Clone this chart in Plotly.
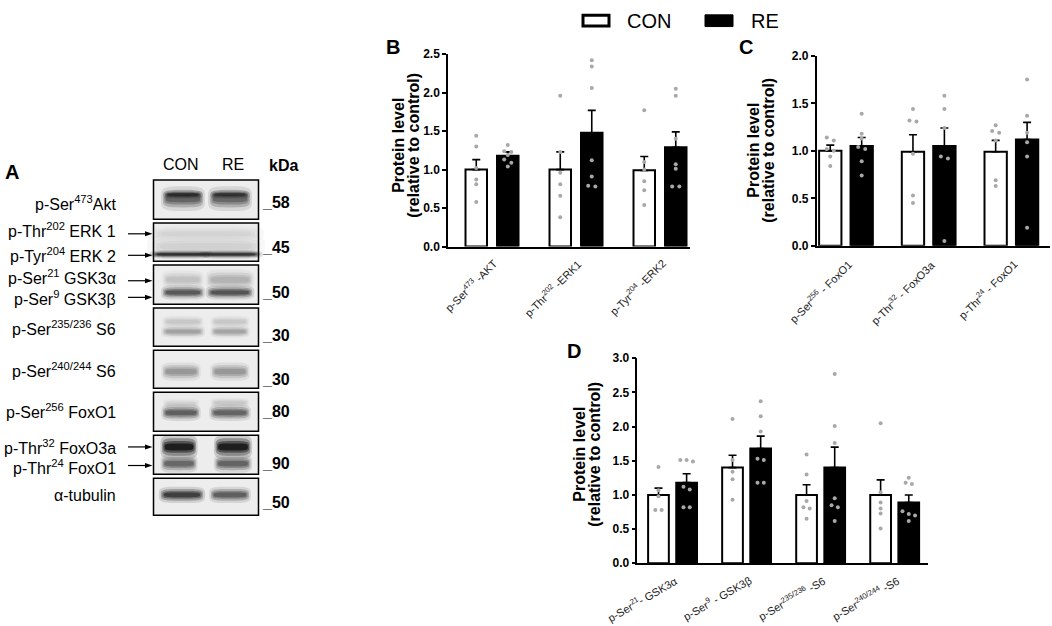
import numpy as np
import plotly.graph_objects as go

W, H = 1052, 626
FONT = "Liberation Sans, Arial, Helvetica, sans-serif"

# ---------------- DATA ----------------
b_labels = ["p-Ser<sup>473</sup> -AKT", "p-Thr<sup>202</sup> -ERK1", "p-Tyr<sup>204</sup> -ERK2"]
b_con_mean = [1.00, 1.00, 0.99]
b_con_sem = [0.13, 0.23, 0.18]
b_re_mean = [1.18, 1.48, 1.29]
b_re_sem = [0.05, 0.29, 0.20]
b_con_pts = [[1.44, 1.30, 1.02, 0.87, 0.81, 0.58],
             [1.96, 1.23, 0.96, 0.81, 0.66, 0.38],
             [1.77, 1.10, 1.00, 0.85, 0.73, 0.54]]
b_re_pts = [[1.32, 1.24, 1.23, 1.19, 1.13, 1.09, 1.04],
            [2.42, 2.34, 2.06, 1.12, 0.91, 0.79, 0.78],
            [2.05, 1.96, 1.40, 1.07, 1.01, 0.78, 0.78]]

c_labels = ["p-Ser<sup>256</sup> - FoxO1", "p-Thr<sup>32</sup> - FoxO3a", "p-Thr<sup>24</sup> - FoxO1"]
c_con_mean = [1.00, 0.99, 0.99]
c_con_sem = [0.06, 0.18, 0.12]
c_re_mean = [1.05, 1.05, 1.12]
c_re_sem = [0.09, 0.19, 0.18]
c_con_pts = [[1.14, 1.11, 1.02, 1.00, 0.94, 0.84],
             [1.44, 1.32, 1.31, 0.97, 0.53, 0.45],
             [1.27, 1.21, 1.19, 1.11, 0.69, 0.63]]
c_re_pts = [[1.39, 1.18, 1.13, 1.04, 1.02, 0.89, 0.74],
            [1.58, 1.44, 1.24, 0.94, 0.92, 0.05],
            [1.75, 1.37, 1.19, 1.09, 0.94, 0.19]]

d_labels = ["p-Ser<sup>21</sup>- GSK3α", "p-Ser<sup>9</sup> - GSK3β",
            "p-Ser<sup>235/236</sup> -S6", "p-Ser<sup>240/244</sup> -S6"]
d_con_mean = [1.00, 1.40, 1.00, 1.00]
d_con_sem = [0.10, 0.18, 0.15, 0.22]
d_re_mean = [1.18, 1.68, 1.40, 0.89]
d_re_sem = [0.13, 0.18, 0.30, 0.11]
d_con_pts = [[1.41, 1.07, 0.98, 0.78, 0.78],
             [2.11, 1.51, 1.34, 1.23, 0.93],
             [1.59, 1.30, 0.91, 0.82, 0.80, 0.65],
             [2.05, 1.04, 0.89, 0.80, 0.73, 0.51]]
d_re_pts = [[1.51, 1.51, 1.49, 1.12, 1.08, 0.82, 0.82],
            [2.37, 2.15, 1.93, 1.53, 1.51, 1.18, 1.18],
            [2.77, 2.01, 1.76, 0.95, 0.85, 0.82, 0.62],
            [1.25, 1.18, 1.16, 0.76, 0.72, 0.70, 0.62]]

groups = ["CON", "RE"]

blot_rows = ["p-Ser<sup>473</sup>Akt", "p-Thr<sup>202</sup> ERK 1", "p-Tyr<sup>204</sup> ERK 2",
             "p-Ser<sup>21</sup> GSK3α", "p-Ser<sup>9</sup> GSK3β", "p-Ser<sup>235/236</sup> S6",
             "p-Ser<sup>240/244</sup> S6", "p-Ser<sup>256</sup> FoxO1", "p-Thr<sup>32</sup> FoxO3a",
             "p-Thr<sup>24</sup> FoxO1", "α-tubulin"]
kda_labels = ["_58", "_45", "_50", "_30", "_30", "_80", "_90", "_50"]

# ---------------- HELPERS ----------------
def px(x):
    return x / W

def py(y):
    return 1 - y / H


def spread(vals, tol, step):
    vals = np.asarray(vals, dtype=float)
    order = np.argsort(-vals)
    offs = np.zeros(len(vals))
    clusters, cur = [], [order[0]]
    for k in order[1:]:
        if abs(vals[cur[-1]] - vals[k]) < tol:
            cur.append(k)
        else:
            clusters.append(cur)
            cur = [k]
    clusters.append(cur)
    for cl in clusters:
        n = len(cl)
        for j, k in enumerate(cl):
            offs[k] = (j - (n - 1) / 2) * step
    return offs


fig = go.Figure()
shapes = []
ann = []

panels = [
    dict(key="", labels=b_labels, cm=b_con_mean, cs=b_con_sem, rm=b_re_mean, rs=b_re_sem,
         cp=b_con_pts, rp=b_re_pts, xdom=(448, 690), ytop=48.3, ybot=245, ymax=2.5,
         xr=(-0.524, 2.357), off=0.1875, bw=0.256, angle=-45, lshift=11, lyshift=-7),
    dict(key="2", labels=c_labels, cm=c_con_mean, cs=c_con_sem, rm=c_re_mean, rs=c_re_sem,
         cp=c_con_pts, rp=c_re_pts, xdom=(816.7, 1050), ytop=50, ybot=244.3, ymax=2.0,
         xr=(-0.354, 2.467), off=0.19, bw=0.27, angle=-45, lshift=12, lyshift=-8),
    dict(key="3", labels=d_labels, cm=d_con_mean, cs=d_con_sem, rm=d_re_mean, rs=d_re_sem,
         cp=d_con_pts, rp=d_re_pts, xdom=(637.3, 928), ytop=359.3, ybot=569, ymax=3.0,
         xr=(-0.476, 3.45), off=0.19, bw=0.28, angle=-30, lshift=10, lyshift=-7),
]

layout_axes = {}
for p in panels:
    k = p["key"]
    xa, ya = "x" + k, "y" + k
    n = len(p["labels"])
    idx = np.arange(n)
    for gi, (means, sems, pts, fill) in enumerate([(p["cm"], p["cs"], p["cp"], "white"),
                                                    (p["rm"], p["rs"], p["rp"], "black")]):
        sign = -1 if gi == 0 else 1
        xs = idx + sign * p["off"]
        fig.add_trace(go.Bar(
            x=xs, y=means, width=p["bw"], xaxis=xa, yaxis=ya, name=groups[gi],
            showlegend=False,
            marker=dict(color=fill, line=dict(color="black", width=2)),
            error_y=dict(type="data", array=sems, arrayminus=[0] * n, symmetric=False,
                         color="black", thickness=1.6, width=4),
        ))
        dx, dy = [], []
        for i in range(n):
            o = spread(pts[i], 0.016 * p["ymax"], 0.085)
            dx.extend(list(xs[i] + o))
            dy.extend(pts[i])
        fig.add_trace(go.Scatter(
            x=dx, y=dy, mode="markers", xaxis=xa, yaxis=ya, showlegend=False,
            marker=dict(color="#a8a8a8", size=4, line=dict(width=0)),
        ))
    layout_axes["xaxis" + k] = dict(
        domain=[px(p["xdom"][0]), px(p["xdom"][1])], range=list(p["xr"]), anchor=ya,
        showline=True, linecolor="black", linewidth=1.5, ticks="", showgrid=False,
        zeroline=False, showticklabels=False, fixedrange=True,
    )
    layout_axes["yaxis" + k] = dict(
        domain=[py(p["ybot"]), py(p["ytop"])], range=[0, p["ymax"]], anchor=xa,
        showline=True, linecolor="black", linewidth=1.5, ticks="outside", ticklen=4,
        tickwidth=1.5, tickcolor="black", dtick=0.5, tickformat=".1f", showgrid=False,
        zeroline=False, tickfont=dict(family=FONT, size=12, color="black", weight="bold"),
        fixedrange=True,
    )
    # category labels, rotated, anchored at their upper-right end near each category
    for i, lab in enumerate(p["labels"]):
        ann.append(dict(x=int(idx[i]), y=0, xref=xa, yref=ya, text=lab, showarrow=False,
                        textangle=p["angle"], xanchor="right", yanchor="top",
                        xshift=p["lshift"], yshift=p["lyshift"],
                        font=dict(family=FONT, size=11, color="#1a1a1a")))

# y-axis titles (two lines each)
for (x1, x2, yc) in [(399, 414, 142), (754, 769, 147), (580, 595, 458)]:
    ann.append(dict(x=px(x1), y=py(yc), xref="paper", yref="paper", text="<b>Protein level</b>",
                    textangle=-90, showarrow=False, xanchor="center", yanchor="middle",
                    font=dict(family=FONT, size=16, color="black")))
    ann.append(dict(x=px(x2), y=py(yc), xref="paper", yref="paper",
                    text="<b>(relative to control)</b>",
                    textangle=-90, showarrow=False, xanchor="center", yanchor="middle",
                    font=dict(family=FONT, size=16, color="black")))

# panel letters
for (lab, x, y) in [("A", 12, 169), ("B", 393, 41), ("C", 746, 41), ("D", 574, 352)]:
    ann.append(dict(x=px(x), y=py(y), xref="paper", yref="paper", text="<b>%s</b>" % lab,
                    showarrow=False, xanchor="center", yanchor="middle",
                    font=dict(family=FONT, size=20, color="black")))

# legend
shapes.append(dict(type="rect", xref="paper", yref="paper", x0=px(583), x1=px(609),
                   y0=py(19.5), y1=py(8.5), fillcolor="white", line=dict(color="black", width=3)))
shapes.append(dict(type="rect", xref="paper", yref="paper", x0=px(705), x1=px(733),
                   y0=py(20), y1=py(8), fillcolor="black", line=dict(color="black", width=1)))
ann.append(dict(x=px(625), y=py(14), xref="paper", yref="paper", text=groups[0], showarrow=False,
                xanchor="left", yanchor="middle", font=dict(family=FONT, size=20, color="black")))
ann.append(dict(x=px(749), y=py(14), xref="paper", yref="paper", text=groups[1], showarrow=False,
                xanchor="left", yanchor="middle", font=dict(family=FONT, size=20, color="black")))

# ---------------- PANEL A (blot drawing) ----------------
def band_path(cx, cy, w, h, npts=48, nexp=4):
    t = np.linspace(0, 2 * np.pi, npts, endpoint=False)
    c, s = np.cos(t), np.sin(t)
    xs = cx + (w / 2) * np.sign(c) * np.abs(c) ** (2 / nexp)
    ys = cy + (h / 2) * np.sign(s) * np.abs(s) ** (2 / nexp)
    pts = ["%s%.5f,%.5f" % ("M" if i == 0 else "L", px(a), py(b)) for i, (a, b) in enumerate(zip(xs, ys))]
    return " ".join(pts) + " Z"


def band(cx, cy, w, h, color):
    for sc_w, sc_h, op in [(1.16, 2.1, 0.15), (1.06, 1.5, 0.3), (0.98, 1.0, 0.45), (0.9, 0.6, 0.7)]:
        shapes.append(dict(type="path", xref="paper", yref="paper",
                           path=band_path(cx, cy, w * sc_w, h * sc_h),
                           fillcolor=color, opacity=op, line=dict(width=0)))


boxes = [(177, 217), (221, 260), (264, 304), (308, 347), (351, 390), (394, 434), (438, 478), (482, 520)]
BX0, BX1 = 153.5, 258.5
for (y0, y1) in boxes:
    shapes.append(dict(type="rect", xref="paper", yref="paper", x0=px(BX0), x1=px(BX1),
                       y0=py(y1), y1=py(y0), fillcolor="#ededed", line=dict(width=0)))

CONX, REX = 183, 230
# box1 Akt
band(CONX, 196, 38, 12, "#555555"); band(REX, 196, 38, 12, "#5a5a5a")
band(CONX, 192, 34, 4, "#222222"); band(REX, 192, 34, 4, "#2a2a2a")
# box2 ERK
band(206, 232, 100, 8, "#d2d2d2")
band(206, 245, 102, 12, "#cfcfcf")
band(181, 253, 54, 4, "#1e1e1e"); band(231, 253, 54, 4, "#222222")
# box3 GSK3
band(CONX, 279, 36, 9, "#bdbdbd"); band(REX, 279, 42, 10, "#acacac")
band(CONX, 292, 38, 7, "#4a4a4a"); band(REX, 292, 42, 7, "#444444")
# box4 S6 235/236
band(CONX, 322, 36, 6, "#c4c4c4"); band(REX, 322, 34, 6, "#c4c4c4")
band(CONX, 332, 38, 6, "#9a9a9a"); band(REX, 332, 34, 6, "#9c9c9c")
# box5 S6 240/244
band(181, 373, 34, 9, "#8e8e8e"); band(REX, 373, 34, 9, "#8e8e8e")
# box6 FoxO1 S256
band(181, 406, 32, 5, "#cccccc"); band(REX, 405, 34, 5, "#c4c4c4")
band(181, 415, 34, 8, "#505050"); band(REX, 415, 36, 8, "#555555")
# box7 FoxO3a / FoxO1 T24
band(179, 450, 32, 12, "#080808"); band(233, 450, 33, 12, "#080808")
band(179, 467, 32, 9, "#5a5a5a"); band(233, 467, 33, 9, "#555555")
# box8 tubulin
band(182, 499, 40, 8, "#2c2c2c"); band(230, 499, 36, 8, "#505050")

for (y0, y1) in boxes:
    shapes.append(dict(type="rect", xref="paper", yref="paper", x0=px(BX0), x1=px(BX1),
                       y0=py(y1), y1=py(y0), fillcolor="rgba(0,0,0,0)",
                       line=dict(color="black", width=1.5)))

# blot headers
ann.append(dict(x=px(181), y=py(161), xref="paper", yref="paper", text=groups[0], showarrow=False,
                xanchor="center", yanchor="middle", font=dict(family=FONT, size=16, color="black")))
ann.append(dict(x=px(233), y=py(161), xref="paper", yref="paper", text=groups[1], showarrow=False,
                xanchor="center", yanchor="middle", font=dict(family=FONT, size=16, color="black")))
ann.append(dict(x=px(283), y=py(162), xref="paper", yref="paper", text="<b>kDa</b>", showarrow=False,
                xanchor="center", yanchor="middle", font=dict(family=FONT, size=16, color="black")))

# blot row labels
row_y = [200, 228, 254, 276, 298, 328, 371, 413, 450, 471, 500]
for lab, y in zip(blot_rows, row_y):
    ann.append(dict(x=px(118), y=py(y), xref="paper", yref="paper", text=lab, showarrow=False,
                    xanchor="right", yanchor="middle", font=dict(family=FONT, size=16, color="black")))

# arrows (line + triangular head)
for y in [232, 254, 280, 297, 450, 469]:
    shapes.append(dict(type="line", xref="paper", yref="paper", x0=px(128), x1=px(146),
                       y0=py(y), y1=py(y), line=dict(color="black", width=1.2)))
    shapes.append(dict(type="path", xref="paper", yref="paper",
                       path="M%.5f,%.5f L%.5f,%.5f L%.5f,%.5f Z" % (
                           px(145), py(y - 2.6), px(152.5), py(y), px(145), py(y + 2.6)),
                       fillcolor="black", line=dict(width=0)))

# kDa markers
kda_y = [200, 246, 292, 336, 381, 414, 467, 507]
for lab, y in zip(kda_labels, kda_y):
    ann.append(dict(x=px(260), y=py(y), xref="paper", yref="paper", text="<b>%s</b>" % lab,
                    showarrow=False, xanchor="left", yanchor="middle",
                    font=dict(family=FONT, size=16, color="black")))

fig.update_layout(
    width=W, height=H, margin=dict(l=0, r=0, t=0, b=0),
    paper_bgcolor="white", plot_bgcolor="rgba(0,0,0,0)",
    barmode="overlay", showlegend=False,
    shapes=shapes, annotations=ann, font=dict(family=FONT),
    **layout_axes,
)

fig.write_html("out.html", config={"displayModeBar": False},
               post_script="document.body.style.margin='0px';document.body.style.overflow='hidden';")
